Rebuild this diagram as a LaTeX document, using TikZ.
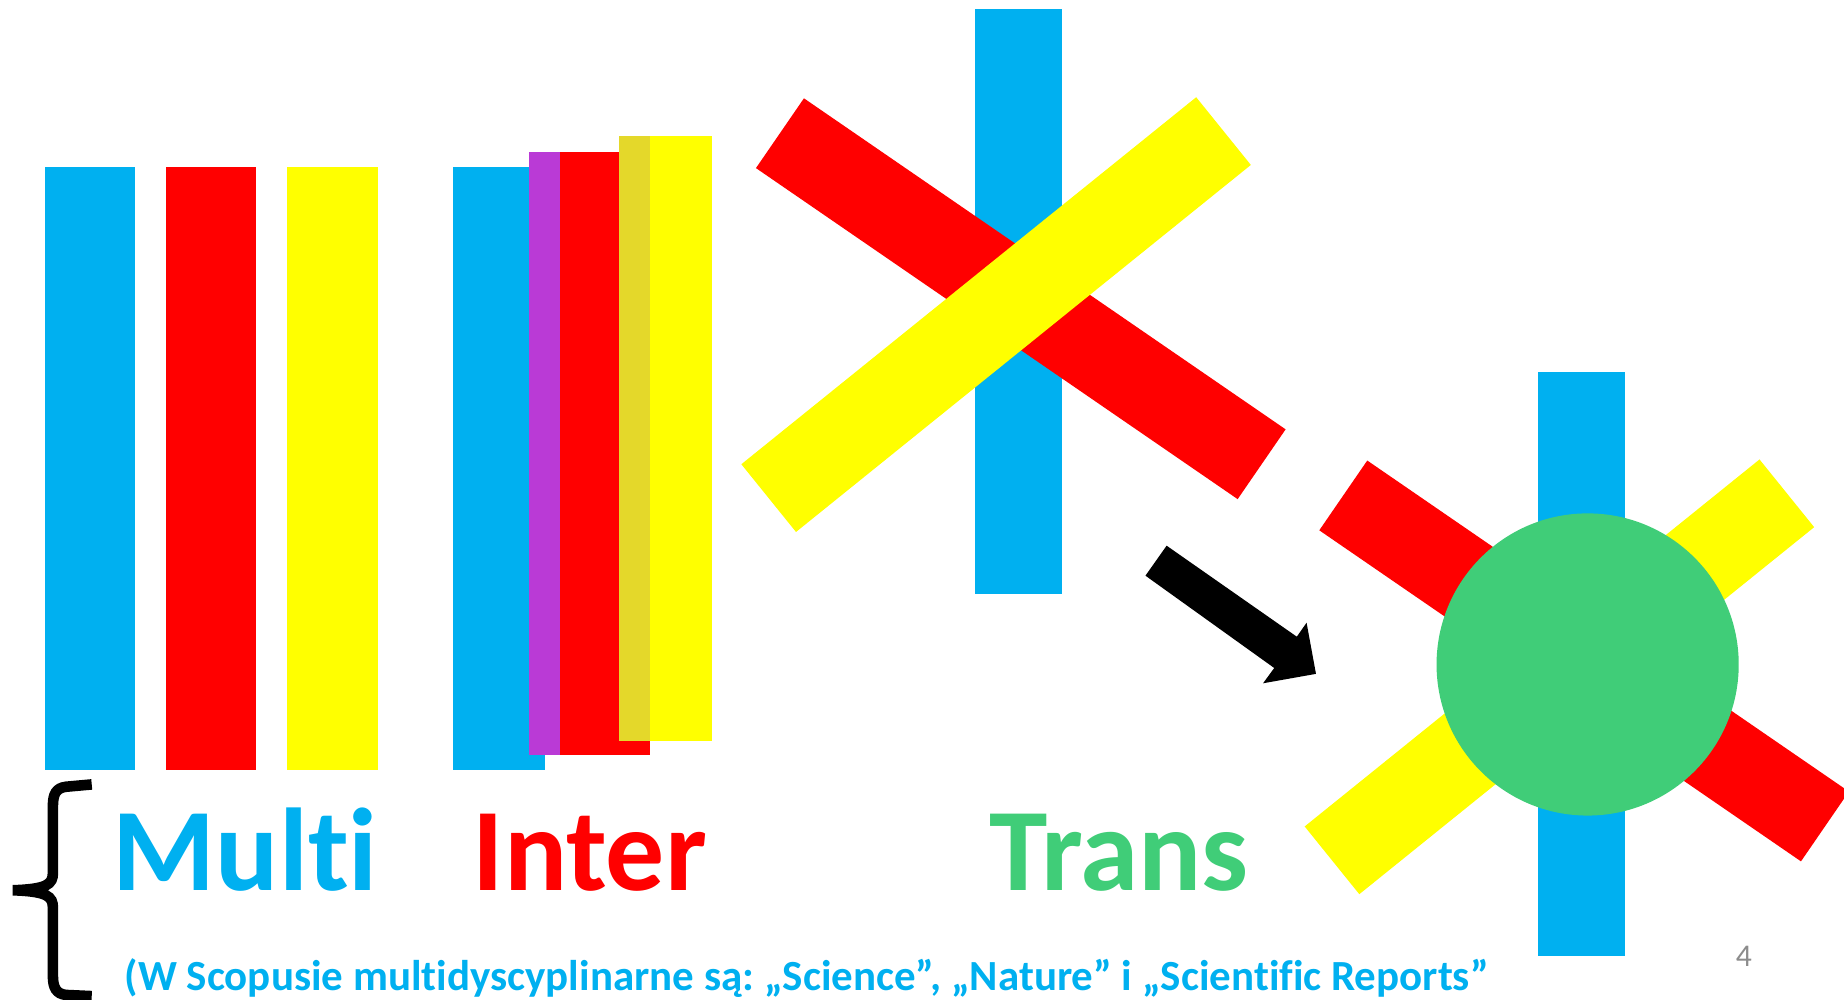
\documentclass[tikz,border=0pt]{standalone}
\usepackage{fontspec}
\setmainfont{Carlito}[RawFeature={-liga;-dlig}]
\frenchspacing
\definecolor{cblue}{HTML}{00B0F0}
\definecolor{cred}{HTML}{FF0000}
\definecolor{cyellow}{HTML}{FFFF00}
\definecolor{cpurple}{HTML}{BA3AD6}
\definecolor{cdyellow}{HTML}{E4D82A}
\definecolor{cgreen}{HTML}{40CD78}
\definecolor{cgrey}{HTML}{8C8C8C}
\begin{document}
\begin{tikzpicture}[x=0.02cm,y=-0.02cm,
  big/.style={font=\fontsize{57}{60}\selectfont\bfseries, anchor=base west, inner sep=0pt, outer sep=0pt},
  note/.style={font=\fontsize{20.8}{24}\selectfont\bfseries, anchor=base west, inner sep=0pt, outer sep=0pt},
  pagenum/.style={font=\fontsize{15.3}{18}\selectfont, anchor=base west, inner sep=0pt, outer sep=0pt, text=cgrey},
  brace/.style={line width=0.18cm, draw=black}]
\useasboundingbox (0,0) rectangle (1568,850.3);
\clip (0,0) rectangle (1568,850.3);
% Multi
\fill[cblue] (38,142) rectangle (115,655);
\fill[cred] (141,142) rectangle (218,655);
\fill[cyellow] (244,142) rectangle (321,655);
% Inter
\fill[cblue] (385,142) rectangle (463,655);
\fill[cred] (450,129) rectangle (553,642);
\fill[cpurple] (450,129) rectangle (476,642);
\fill[cyellow] (526,116) rectangle (605,630);
\fill[cdyellow] (526,116) rectangle (553,630);
% star 1
\fill[cblue] (829,8) rectangle (903,505);
\fill[cred, rotate around={-34.5:(868,254)}] (619.5,218) rectangle (1116.5,290);
\fill[cyellow, rotate around={38.9:(847,267.5)}] (598.5,230.5) rectangle (1095.5,304.5);
% star 2
\fill[cblue] (1308,316) rectangle (1382,813);
\fill[cred, rotate around={-34.5:(1347,562)}] (1098.5,526) rectangle (1595.5,598);
\fill[cyellow, rotate around={38.9:(1326,575.5)}] (1077.5,538.5) rectangle (1574.5,612.5);
\fill[cgreen] (1350,565) circle (2.57cm);
% arrow
\fill[black] (992,464) -- (1102.7,541.4) -- (1111,529.5) -- (1119,573) -- (1074,581) -- (1083.5,568) -- (974,489.5) -- cycle;
% brace
\draw[brace] (78,667) -- (56,669) .. controls (48,670) and (45,675) .. (45,685) -- (45,742) .. controls (45,752) and (40,756) .. (11,757)
  .. controls (40,758) and (45,762) .. (45,772) -- (45,830) .. controls (45,840) and (48,845) .. (56,846) -- (78,847);
% texts
\node[big, text=cblue] (multi) at (96,757) {Multi};
\node[big, text=cred] (inter) at (402,757) {Inter};
\node[big, text=cgreen] (trans) at (841,757) {Trans};
\node[note, text=cblue] (scopus) at (106,842) {(W Scopusie multidyscyplinarne są: „Science”, „Nature” i „Scientific Reports”};
\node[pagenum] (num) at (1476,822) {4};
\end{tikzpicture}
\end{document}
